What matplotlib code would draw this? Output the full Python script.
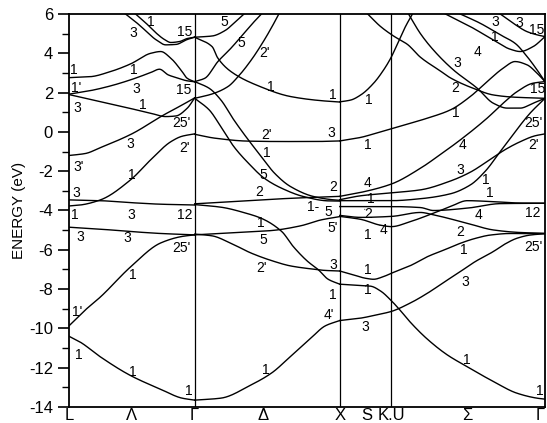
import numpy as np
import matplotlib
matplotlib.use('Agg')
import matplotlib.pyplot as plt

plt.rcParams['font.family'] = ['Liberation Sans', 'DejaVu Sans']
plt.rcParams['axes.unicode_minus'] = False

# symmetry points along L - Gamma - X - (K,U) - Gamma, units of 2pi/a
k_L, k_G1, k_X, k_K, k_G2 = 0.0, 0.866, 1.866, 2.220, 3.280
sym_pos = [0.0, 0.433, 0.866, 1.34, 1.866, 2.05, 2.22, 2.746, 3.28]
sym_labels = ['L', 'Λ', 'Γ', 'Δ', 'X', 'S', 'K.U', 'Σ', 'Γ']

# bands as (fraction along segment, energy in eV)
# L -> Gamma
lam_bands = [
    ([0, .09, .25, .49, .73, .9, 1], [-10.4, -10.7, -11.45, -12.4, -13.1, -13.55, -13.65]),
    ([0, .13, .25, .49, .73, .9, 1], [-9.87, -9.06, -8.4, -6.87, -5.65, -5.32, -5.24]),
    ([0, .25, .49, .73, 1], [-4.85, -4.95, -5.07, -5.17, -5.24]),
    ([0, .09, .25, .49, .65, .81, .9, 1], [-3.77, -3.72, -3.46, -2.44, -1.42, -0.5, -0.22, -0.1]),
    ([0, .25, .49, .73, 1], [-3.46, -3.5, -3.6, -3.68, -3.72]),
    ([0, .13, .25, .5, .75, .9, 1], [-1.2, -1.1, -0.8, -0.1, 0.85, 1.37, 1.73]),
    ([0, .25, .49, .65, .77, .85, .94, 1], [1.9, 1.54, 1.19, 0.95, 0.78, 0.81, 1.2, 1.73]),
    ([0, .17, .33, .49, .65, .72, .79, .86, .94, 1], [1.92, 2.1, 2.34, 2.65, 3.02, 3.19, 2.9, 2.75, 2.6, 2.55]),
    ([0, .17, .33, .49, .65, .73, .81, .9, .94, 1], [2.76, 2.81, 3.07, 3.46, 4.0, 4.09, 3.75, 3.07, 2.73, 2.55]),
    ([.45, .53, .61, .69, .77, .85, .94, 1], [6.0, 5.6, 5.15, 4.7, 4.43, 4.45, 4.7, 4.82]),
    ([.53, .61, .69, .76, .81, .88, .94, 1], [6.0, 5.55, 5.05, 4.7, 4.55, 4.6, 4.75, 4.82]),
]

# Gamma -> X
delta_bands = [
    ([0, .18, .39, .53, .66, .8, .9, 1], [-13.65, -13.55, -12.87, -12.27, -11.43, -10.5, -9.87, -9.6]),
    ([0, .12, .25, .39, .53, .66, .8, .9, 1], [-5.2, -5.29, -5.67, -6.17, -6.55, -6.82, -6.97, -7.05, -7.08]),
    ([0, .25, .53, .73, .87, 1], [-5.24, -5.14, -5.02, -4.78, -4.48, -4.31]),
    ([0, .18, .36, .46, .6, .68, .78, .85, .92, 1], [-3.7, -3.83, -4.15, -4.4, -5.07, -5.84, -6.6, -7.0, -7.5, -7.75]),
    ([0, .32, .66, 1], [-3.66, -3.52, -3.38, -3.28]),
    ([0, .14, .37, .6, .82, 1], [-0.12, -0.32, -0.47, -0.49, -0.49, -0.46]),
    ([0, .12, .16, .25, .44, .66, .87, 1], [4.82, 4.34, 3.75, 3.07, 2.34, 1.8, 1.59, 1.52]),
    ([0, .12, .21, .27, .34], [4.82, 4.88, 5.16, 5.53, 6.0]),
    ([0, .07, .16, .25, .34, .41, .46], [2.56, 2.73, 3.58, 4.26, 5.02, 5.61, 6.0]),
    ([0, .12, .23, .3, .39, .48, .54, .58], [1.71, 1.93, 2.31, 2.82, 3.66, 4.68, 5.45, 6.0]),
    ([0, .1, .18, .27, .37, .46, .55, .66, .82, .96, 1], [2.56, 2.22, 1.63, 0.61, -0.41, -1.26, -2.1, -2.78, -3.29, -3.46, -3.48]),
    ([0, .1, .18, .27, .37, .48, .6, .75, .92, 1], [1.71, 1.12, 0.27, -0.75, -1.59, -2.36, -2.87, -3.29, -3.51, -3.52]),
]

# X -> K,U -> Gamma
sigma_bands = [
    ([0, .10, .175, .25, .345, .427, .515, .587, .66, .748, .806, .864, .927, 1],
     [-9.6, -9.48, -9.32, -9.14, -8.7, -8.21, -7.6, -7.11, -6.6, -6.09, -5.7, -5.41, -5.25, -5.18]),
    ([0, .068, .126, .165, .209, .252, .345, .427, .515, .587, .66, .733, .83, 1],
     [-7.08, -7.28, -7.45, -7.5, -7.38, -7.19, -6.8, -6.35, -5.98, -5.67, -5.42, -5.25, -5.17, -5.18]),
    ([0, .078, .15, .199, .252, .296, .345, .427, .524, .621, .748, .864, .961, 1],
     [-7.75, -7.8, -7.85, -8.1, -8.6, -9.1, -9.7, -10.55, -11.35, -11.95, -12.7, -13.3, -13.55, -13.6]),
    ([0, .053, .102, .175, .252, .427, .539, .636, .718, .796, .854, .913, .961, 1],
     [-0.46, -0.37, -0.28, -0.07, 0.17, 0.7, 1.12, 1.8, 2.56, 3.24, 3.58, 3.41, 2.99, 2.56]),
    ([0, .053, .102, .165, .214, .248, .282, .32, .354], [1.53, 1.62, 1.88, 2.48, 3.16, 3.75, 4.5, 5.36, 6.0]),
    ([.136, .199, .262, .33, .393, .49, .539, .65, .748, .845, 1], [6.0, 5.36, 4.88, 4.45, 3.8, 3.1, 2.75, 2.22, 1.88, 1.77, 1.71]),
    ([.335, .393, .456, .553, .67, .748, .816, .879, .942, 1], [6.0, 5.0, 4.17, 3.16, 2.22, 1.46, 1.21, 1.21, 1.46, 1.71]),
    ([.515, .636, .748, .83, .879, .942, 1], [6.0, 5.36, 4.68, 4.21, 4.09, 4.34, 4.85]),
    ([.587, .684, .782, .854, .913, .961, 1], [6.0, 5.53, 4.94, 4.51, 3.83, 3.16, 2.56]),
    ([.782, .845, .913, .961, 1], [6.0, 5.53, 5.1, 4.94, 4.85]),
    ([0, .102, .252, .393, .49, .587, .718, .796, .864, .942, 1],
     [-3.28, -3.08, -2.65, -1.85, -1.15, -0.41, 0.7, 1.46, 2.05, 2.48, 2.56]),
    ([0, .102, .252, .393, .539, .636, .733, .806, .879, .951, 1],
     [-3.45, -3.25, -3.1, -2.95, -2.5, -2.05, -1.4, -0.9, -0.5, -0.2, -0.1]),
    ([0, .252, .393, .539, .636, .709, .782, .854, .927, 1],
     [-3.5, -3.5, -3.4, -3.15, -2.7, -2.0, -1.0, 0.0, 0.95, 1.71]),
    ([0, .102, .199, .252, .345, .456, .539, .621, .748, .879, 1],
     [-4.3, -4.45, -4.75, -4.82, -4.56, -4.14, -3.8, -3.5, -3.55, -3.62, -3.63]),
    ([0, .252, .393, .456, .621, .782, 1], [-3.8, -3.8, -3.85, -4.0, -3.88, -3.65, -3.63]),
    ([0, .102, .252, .393, .456, .621, .748, .879, 1], [-4.25, -4.35, -4.3, -4.1, -4.22, -4.65, -4.99, -5.12, -5.16]),
]

# irreducible representation labels (k, E, text)
rep_k = [0.566, 0.44, 0.796, 0.035, 0.049, 0.056, 0.447, 0.461, 0.51, 0.789, 0.775, 0.419, 0.796,
         0.063, 0.433, 0.049, 0.042, 0.426, 0.796, 0.077, 0.405, 0.775, 0.44, 0.056, 0.07, 0.44, 0.824,
         1.071, 1.188, 1.345, 1.393, 1.818, 1.359, 1.804, 1.366, 1.339, 1.311, 1.818, 1.681, 1.784,
         1.818, 1.325, 1.339, 1.325, 1.818, 1.818, 1.791, 1.359,
         2.065, 2.058, 2.058, 2.079, 2.065, 2.058, 2.168, 2.058, 2.058, 2.045, 2.937, 3.102, 3.226,
         2.937, 2.814, 2.676, 2.663, 3.233, 2.663, 3.198, 2.711, 3.198, 2.697, 2.869, 2.903, 2.821,
         3.198, 2.697, 3.198, 2.718, 2.731, 2.738, 3.246]
rep_E = [5.6, 5.04, 5.09, 3.16, 2.24, 1.22, 3.16, 2.19, 1.37, 2.14, 0.46, -0.61, -0.81,
         -1.78, -2.19, -3.1, -4.22, -4.22, -4.22, -5.34, -5.4, -5.9, -7.28, -9.16, -11.35, -12.2, -13.2,
         5.6, 4.53, 4.02, 2.29, 1.88, -0.15, -0.05, -1.07, -2.19, -3.05, -2.8, -3.82, -4.07,
         -4.89, -4.63, -5.5, -6.92, -6.77, -8.3, -9.3, -12.1,
         1.63, -0.66, -2.6, -3.42, -4.16, -5.24, -4.99, -7.02, -8.04, -9.92, 5.6, 5.55, 5.19,
         4.83, 4.07, 3.51, 2.24, 2.19, 0.97, 0.46, -0.66, -0.66, -1.93, -2.44, -3.1, -4.22,
         -4.12, -5.09, -5.85, -6.0, -7.63, -11.6, -13.2]
rep_txt = ['1', '3', '15', '1', "1'", '3', '1', '3', '1', '15', "25'", '3', "2'",
           "3'", '1', '3', '1', '3', '12', '3', '3', "25'", '1', "1'", '1', '1', '1',
           '5', '5', "2'", '1', '1', "2'", '3', '1', '5', '2', '2', '1-', '5',
           "5'", '1', '5', "2'", '3', '1', "4'", '1',
           '1', '1', '4', '1', '2', '1', '4', '1', '1', '3', '3', '3', '15',
           '1', '4', '3', '2', '15', '1', "25'", '4', "2'", '3', '1', '1', '4',
           '12', '2', "25'", '1', '3', '1', '1']

# short leader lines from a label to its band
lead_from = [(2.055, -4.02), (2.158, -4.85)]
lead_to = [(2.022, -3.86), (2.128, -4.66)]


def smooth(x, y, xn):
    # monotone cubic hermite through the read points
    x = np.asarray(x, float)
    y = np.asarray(y, float)
    h = np.diff(x)
    d = np.diff(y) / h
    m = np.zeros_like(y)
    m[0], m[-1] = d[0], d[-1]
    for i in range(1, len(y) - 1):
        if d[i - 1] * d[i] > 0:
            w1 = 2 * h[i] + h[i - 1]
            w2 = h[i] + 2 * h[i - 1]
            m[i] = (w1 + w2) / (w1 / d[i - 1] + w2 / d[i])
    i = np.clip(np.searchsorted(x, xn) - 1, 0, len(x) - 2)
    t = (xn - x[i]) / h[i]
    return ((2 * t**3 - 3 * t**2 + 1) * y[i] + (t**3 - 2 * t**2 + t) * h[i] * m[i]
            + (-2 * t**3 + 3 * t**2) * y[i + 1] + (t**3 - t**2) * h[i] * m[i + 1])


fig = plt.figure(figsize=(5.47, 4.23), dpi=100)
ax = fig.add_axes([69 / 547, 1 - 407 / 423, 476 / 547, 393 / 423])

segments = [(k_L, k_G1, lam_bands), (k_G1, k_X, delta_bands), (k_X, k_G2, sigma_bands)]
for k0, k1, bands in segments:
    for t, e in bands:
        tn = np.linspace(t[0], t[-1], 200)
        ax.plot(k0 + tn * (k1 - k0), smooth(t, e, tn), color='black', lw=1.0)

for kv in (k_G1, k_X, k_K):
    ax.axvline(kv, color='black', lw=0.9)

for kx, ey, s in zip(rep_k, rep_E, rep_txt):
    ax.text(kx, ey, s, fontsize=10, ha='center', va='center')

for (x0, y0), (x1, y1) in zip(lead_from, lead_to):
    ax.annotate('', xy=(x1, y1), xytext=(x0, y0),
                arrowprops=dict(arrowstyle='-', lw=0.7, color='black'))

ax.set_xlim(k_L, k_G2)
ax.set_ylim(-14, 6)
ax.set_yticks(np.arange(-14, 7, 2))
ax.set_yticks(np.arange(-13, 6, 2), minor=True)
ax.tick_params(axis='y', which='major', direction='out', length=8, width=1.2, labelsize=12)
ax.tick_params(axis='y', which='minor', direction='out', length=5, width=1.0)
ax.set_xticks(sym_pos)
ax.set_xticklabels(sym_labels)
ax.tick_params(axis='x', length=0, labelsize=12, pad=1)
ax.get_xticklabels()[-1].set_horizontalalignment('right')
for sp in ax.spines.values():
    sp.set_linewidth(1.3)
ax.set_ylabel('ENERGY (eV)', fontsize=11, labelpad=2)

fig.savefig('out.png', dpi=100)
